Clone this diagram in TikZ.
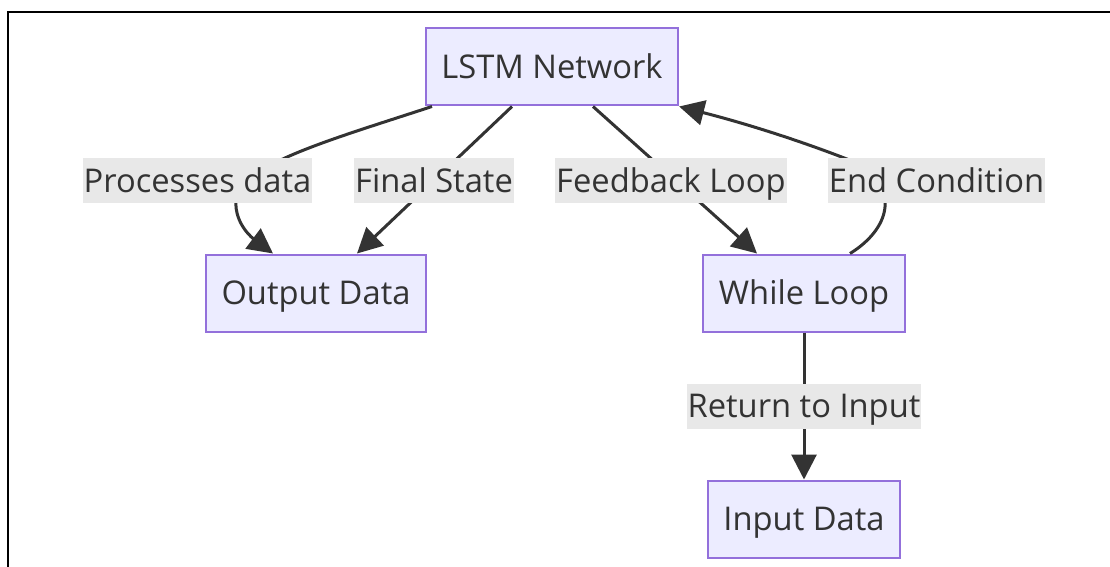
\documentclass[tikz,border=0pt]{standalone}
\usepackage{fontspec}
\setmainfont{Open Sans}
\usetikzlibrary{arrows.meta}
\definecolor{nodefill}{HTML}{ECECFF}
\definecolor{nodeline}{HTML}{9370DB}
\definecolor{ink}{HTML}{333333}
\definecolor{lblbg}{HTML}{E8E8E8}
\tikzset{
  box/.style={draw=nodeline, fill=nodefill, line width=2pt, text=ink,
    font=\fontsize{32.7}{38}\selectfont, inner xsep=15.5pt, inner ysep=0pt,
    minimum height=77pt, text height=31pt, text depth=8pt},
  lbl/.style={fill=lblbg, text=ink, font=\fontsize{32.7}{38}\selectfont,
    inner xsep=1pt, inner ysep=0pt, minimum height=45pt,
    text height=31pt, text depth=8pt},
  conn/.style={draw=ink, line width=3pt, -{Triangle[length=25pt,width=25pt]}},
  frame/.style={draw=black, line width=2.5pt}
}
\begin{document}
\begin{tikzpicture}[x=1pt,y=-1pt]
\useasboundingbox (0,0) rectangle (1110,567);
\draw[frame] (8,567) -- (8,12) -- (1111,12);

\node[box] (lstm) at (552,67) {LSTM Network};
\node[box] (out) at (316,293) {Output Data};
\node[box] (wl) at (804,293) {While Loop};
\node[box] (inp) at (804,519) {Input Data};

% edges
\draw[conn] ([xshift=-120pt]lstm.south) .. controls (330,140) and (240,165) .. (236,200)
  .. controls (234,225) and (255,240) .. ([xshift=-43pt]out.north);
\draw[conn] ([xshift=-40pt]lstm.south) -- ([xshift=41pt]out.north);
\draw[conn] ([xshift=41pt]lstm.south) -- ([xshift=-47pt]wl.north);
\draw[conn] ([xshift=46pt]wl.north) .. controls (885,232) and (902,195) .. (862,165)
  .. controls (800,140) and (740,122) .. (lstm.south east);
\draw[conn] (wl.south) -- (inp.north);

% labels
\node[lbl] (l1) at (197.5,180.5) {Processes data};
\node[lbl] (l2) at (434,180.5) {Final State};
\node[lbl] (l3) at (671,180.5) {Feedback Loop};
\node[lbl] (l4) at (936.5,180.5) {End Condition};
\node[lbl] (l5) at (804,406) {Return to Input};
\end{tikzpicture}
\end{document}
